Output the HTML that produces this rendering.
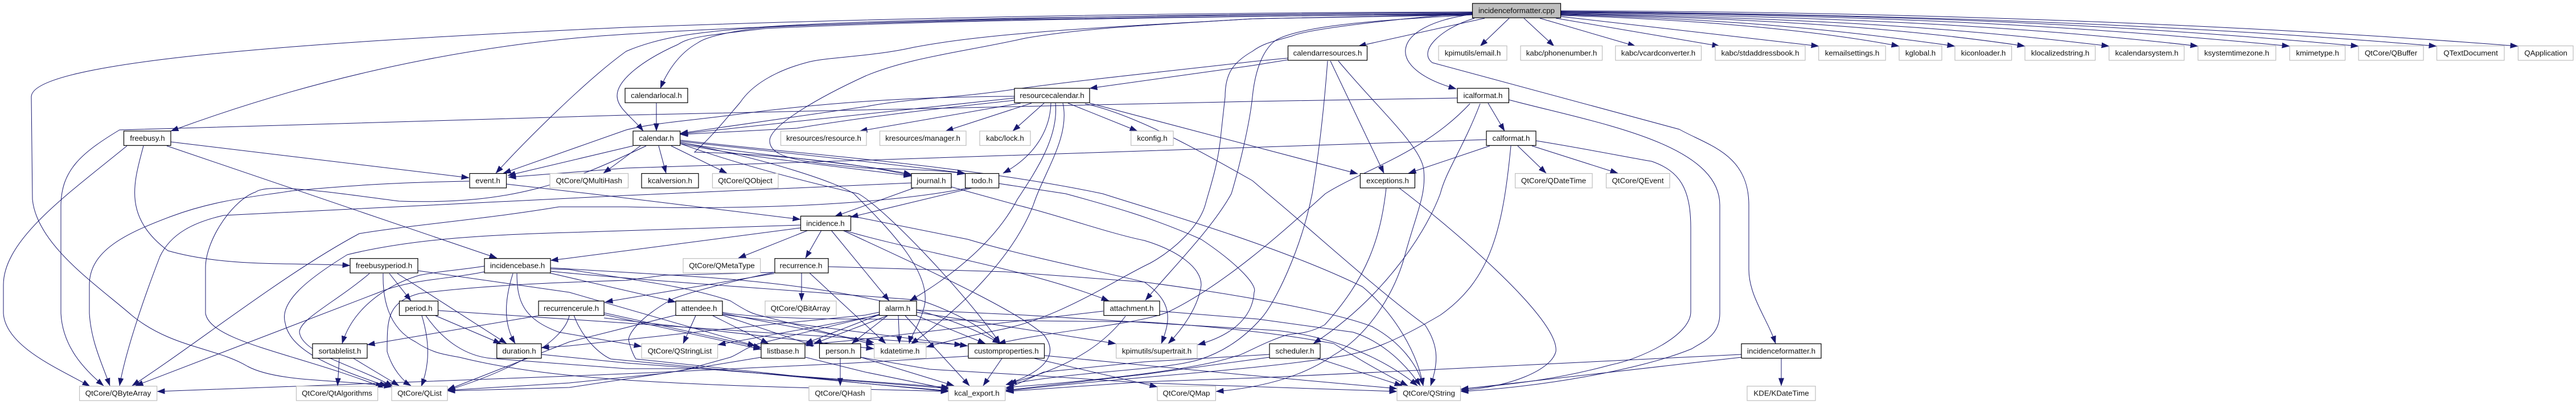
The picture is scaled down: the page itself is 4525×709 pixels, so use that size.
<!DOCTYPE html>
<html><head><meta charset="utf-8"><style>
html,body{margin:0;padding:0;background:#fff}
svg{display:block}
text{font:13.33px "Liberation Sans",Arial,sans-serif;text-anchor:middle;fill:#111}
.n{fill:#fff;stroke:#000;stroke-width:1.2}
.g{fill:#fff;stroke:#bfbfbf;stroke-width:1.2}
.e path{fill:none;stroke:#191970;stroke-width:1;marker-end:url(#a)}
</style></head><body>
<svg width="4525" height="709" viewBox="0 0 4525 709" xmlns="http://www.w3.org/2000/svg">
<defs><marker id="a" markerUnits="userSpaceOnUse" markerWidth="14" markerHeight="10" refX="13.5" refY="5" orient="auto"><path d="M0 0L14 5L0 10z" fill="#191970"/></marker></defs>
<g class="e">
<!-- root right -->
<path d="M2742 19C3300 20 3900 40 4423 81"/>
<path d="M2742 20C3300 25 3800 40 4280 81"/>
<path d="M2742 21C3300 25 3700 40 4143 81"/>
<path d="M2742 22C3300 26 3650 45 4022 81"/>
<path d="M2742 23C3200 28 3550 45 3861 81"/>
<path d="M2742 24C3200 32 3450 50 3705 81"/>
<path d="M2742 25C3100 32 3350 50 3557 81"/>
<path d="M2742 26C3050 33 3250 55 3434 81"/>
<path d="M2742 27C3000 35 3200 55 3336 81"/>
<path d="M2742 29L3195 81"/>
<path d="M2733 32L3021 81"/>
<path d="M2705 32L2873 81"/>
<path d="M2677 32L2730 81"/>
<path d="M2651 32L2600 81"/>
<path d="M2608 32L2386 81"/>
<path d="M2586 25C2440 45 2430 120 2558 156"/>
<path d="M2590 32C2530 50 2490 90 2516 110L2950 227C3000 255 3072 270 3072 360L3072 473C3072 520 3105 560 3119 603"/>
<!-- root left -->
<path d="M2586 21C2100 22 1600 30 1100 48C500 75 55 110 55 170L57 350C65 430 170 500 231 553C300 610 380 610 435 643C490 672 600 665 688 679"/>
<path d="M2586 22C2100 24 1500 35 1100 60C900 72 620 112 300 230"/>
<path d="M2586 23C2100 28 1600 30 1345 47C1250 55 1170 60 1100 90C1030 140 920 250 871 304"/>
<path d="M2586 24C2100 30 1650 35 1345 50C1240 62 1210 65 1191 78C1130 105 1084 140 1084 168C1084 190 1110 205 1130 230"/>
<path d="M2586 25C2000 30 1600 35 1345 48C1280 55 1240 65 1226 75C1190 95 1170 130 1160 155"/>
<path d="M2586 25L2200 33C2000 45 1750 55 1605 83C1530 100 1450 100 1416 110C1360 125 1320 150 1300 180C1270 215 1250 240 1220 267C1350 270 1500 285 1601 308"/>
<path d="M2586 26L2200 33C2000 45 1900 50 1801 67C1700 90 1600 100 1521 133C1440 170 1352 220 1352 247C1352 280 1420 285 1521 295C1600 297 1660 299 1695 305"/>
<path d="M2586 23C2480 30 2300 50 2270 63C2240 72 2220 75 2200 90C2165 110 2152 130 2152 170L2145 233C2140 290 2125 330 2117 360C2105 400 2060 440 2020 462C1960 490 1860 560 1750 580C1700 590 1660 600 1627 609"/>
<path d="M2586 26C2480 32 2400 38 2361 43C2300 50 2260 60 2242 70C2220 85 2205 120 2200 170C2195 220 2175 300 2163 340C2130 400 2060 470 2012 527"/>
<!-- calendarresources -->
<path d="M2262 102L2200 108C2100 120 1900 140 1780 157C1680 172 1600 172 1521 187L1195 234"/>
<path d="M2262 105L2200 115L1914 155"/>
<path d="M2337 107L2431 304"/>
<path d="M2332 107C2325 200 2315 280 2305 340C2285 440 2240 530 2217 557C2180 600 2140 620 2110 630C2050 650 1900 650 1767 675"/>
<path d="M2351 107C2420 190 2500 260 2501 300C2505 340 2490 370 2470 440C2450 520 2400 590 2343 623C2290 660 2220 680 2136 687"/>
<!-- icalformat -->
<path d="M2560 172L2200 178L1100 202C900 208 500 220 210 228C140 270 108 300 107 360L107 550C110 610 150 650 182 677"/>
<path d="M2614 181L2643 230"/>
<path d="M2582 182C2500 270 2390 300 2328 340C2250 410 2150 500 2053 547C2000 570 1850 580 1753 603"/>
<path d="M2600 182C2570 260 2540 300 2530 340C2500 420 2420 530 2307 603"/>
<path d="M2650 175C2800 215 3021 250 3021 360L3021 550C3021 590 2990 600 2972 612C2880 650 2700 680 2566 687"/>
<!-- calformat -->
<path d="M2611 245L1100 295L893 311"/>
<path d="M2617 256L2474 304"/>
<path d="M2666 256L2716 304"/>
<path d="M2691 256L2842 304"/>
<path d="M2698 247C2780 260 2880 280 2901 283C2950 300 2970 330 2970 400L2970 547C2970 590 2880 630 2831 640C2720 670 2640 675 2566 683"/>
<path d="M2654 256C2640 400 2620 490 2530 553C2450 600 2400 620 2343 627C2200 650 2000 660 1767 686"/>
<!-- exceptions -->
<path d="M2435 330C2425 420 2400 490 2327 570C2300 585 2280 585 2263 587C2220 600 2180 625 2170 625C2100 650 1900 670 1767 680"/>
<path d="M2458 330C2550 400 2740 560 2733 617C2725 650 2650 680 2566 685"/>
<!-- resourcecalendar -->
<path d="M1782 169C1600 170 1450 180 1300 200C1230 210 1150 215 1100 228L884 304"/>
<path d="M1782 172C1650 185 1520 200 1400 213L1195 235"/>
<path d="M1782 176C1650 190 1520 205 1400 225L1195 236"/>
<path d="M1793 181L1510 230"/>
<path d="M1812 181L1661 230"/>
<path d="M1834 181L1779 230"/>
<path d="M1876 181L1998 230"/>
<path d="M1846 181C1845 220 1825 270 1762 304"/>
<path d="M1854 181C1860 240 1820 300 1787 350C1750 420 1680 480 1598 528"/>
<path d="M1867 181C1880 240 1835 300 1815 360C1780 450 1690 540 1600 604"/>
<path d="M1914 181L2385 305"/>
<path d="M1906 182C1990 200 2100 260 2200 317L2227 340C2300 400 2420 510 2503 570C2530 610 2525 640 2513 677"/>
<!-- calendar -->
<path d="M1153 181L1153 230"/>
<path d="M1135 256C1000 320 900 360 701 353C600 340 470 320 449 337C410 350 361 420 361 470L361 550C370 600 520 620 673 680"/>
<path d="M1112 256L892 308"/>
<path d="M1125 256L1060 304"/>
<path d="M1157 256L1170 304"/>
<path d="M1179 256L1277 304"/>
<path d="M1195 248C1300 260 1500 280 1695 304"/>
<path d="M1195 250C1300 270 1500 285 1601 306"/>
<path d="M1195 252C1300 275 1500 295 1601 309"/>
<path d="M1195 246C1400 270 1700 290 1937 340C2030 370 2243 430 2393 503C2450 550 2490 620 2500 677"/>
<path d="M1195 250C1350 280 1470 320 1500 340C1560 400 1640 480 1623 540C1615 570 1600 590 1597 603"/>
<path d="M1195 252C1300 290 1420 320 1508 340C1560 370 1700 520 1757 603"/>
<!-- event -->
<path d="M889 323L1037 340L1406 385"/>
<path d="M824 318C700 320 620 325 512 335C450 345 380 350 300 380C220 410 157 440 157 500L157 550C160 600 180 640 193 677"/>
<!-- journal/todo -->
<path d="M1601 321L1100 343L757 360L393 378C340 390 300 410 281 450C250 530 220 620 210 677"/>
<path d="M1605 330L1466 380"/>
<path d="M1671 328L1787 360C1850 375 1950 410 2010 422C2070 440 2110 470 2110 500C2105 540 2075 580 2052 603"/>
<path d="M1700 330C1600 350 1400 370 1100 363L982 363C850 385 720 395 631 410C500 480 350 600 232 677"/>
<path d="M1707 330L1494 381"/>
<path d="M1754 322L1872 340C1945 360 2020 380 2110 420C2170 460 2210 500 2203 513C2200 560 2160 590 2104 605"/>
<!-- incidence -->
<path d="M1406 395L1000 408C850 412 720 420 610 447C540 490 490 530 501 567C510 620 600 650 680 678"/>
<path d="M1406 400L1000 453L967 457"/>
<path d="M1420 404L1297 453"/>
<path d="M1443 404L1415 453"/>
<path d="M1460 404L1562 528"/>
<path d="M1482 404C1600 440 1800 470 1948 528"/>
<path d="M1490 378L1700 420C1800 450 1950 480 2010 495C2060 530 2057 560 2040 603"/>
<path d="M1480 404C1600 460 1780 540 1833 587C1860 620 1840 650 1767 675"/>
<!-- freebusy -->
<path d="M300 249L824 312"/>
<path d="M252 256C235 320 215 380 295 440C400 470 520 460 615 466"/>
<path d="M293 256L873 453"/>
<path d="M223 256C120 340 6 420 6 500L6 550C10 610 110 650 158 678"/>
<!-- freebusyperiod -->
<path d="M649 480C590 530 526 560 526 583C530 620 620 640 690 678"/>
<path d="M684 480L722 528"/>
<path d="M698 480L890 603"/>
<path d="M673 480C672 520 680 575 730 600C760 620 780 622 807 627C900 650 1000 660 1100 667C1300 680 1500 682 1666 687"/>
<path d="M734 475L1000 513L1327 607"/>
<!-- incidencebase -->
<path d="M851 467C800 475 770 476 737 483C680 500 620 540 601 603"/>
<path d="M851 477C790 490 720 490 666 513L238 677"/>
<path d="M901 480C885 530 885 570 905 603"/>
<path d="M908 480C908 530 920 560 982 583L1127 608"/>
<path d="M967 472L1000 473C1100 490 1200 500 1283 528C1310 545 1320 550 1333 553L1535 605"/>
<path d="M967 470L1183 483C1300 490 1600 510 1757 603"/>
<path d="M965 479L1187 530"/>
<path d="M967 476C1100 490 1400 510 1617 527C1670 545 1720 570 1757 603"/>
<!-- period -->
<path d="M741 554C755 600 755 640 740 678"/>
<path d="M765 554L880 603"/>
<path d="M770 545L1100 567L1333 583L1690 605"/>
<path d="M748 554C780 600 820 625 863 629L1100 647L1233 647L1667 682"/>
<!-- recurrencerule -->
<path d="M946 554L645 605"/>
<path d="M1000 554C990 600 900 650 786 685"/>
<path d="M1008 553C1025 600 1060 625 1073 630L1520 673L1667 687"/>
<path d="M1061 549L1337 610"/>
<path d="M1061 552L1337 613"/>
<path d="M1061 558L1535 612"/>
<!-- recurrence -->
<path d="M1360 480L1063 530"/>
<path d="M1360 478C1300 490 1200 515 1177 527C1120 560 1100 590 1105 600C1110 620 1117 630 1117 630L1520 673L1667 686"/>
<path d="M1361 478L1167 483L1100 492C1000 495 850 500 737 515C680 530 680 560 680 617C690 650 710 670 722 677"/>
<path d="M1408 479L1408 528"/>
<path d="M1422 479L1556 603"/>
<path d="M1455 468L1767 477L2010 495C2200 520 2350 550 2410 573C2460 600 2490 640 2500 677"/>
<!-- attendee -->
<path d="M1222 554L1200 603"/>
<path d="M1252 554L1350 603"/>
<path d="M1269 553L1430 607"/>
<path d="M1269 550L1535 601"/>
<path d="M1269 552L1700 607"/>
<path d="M1269 548C1300 555 1400 560 1520 560L2010 565C2200 577 2300 595 2343 603C2370 620 2420 650 2473 677"/>
<path d="M1187 553L1000 600L786 684"/>
<!-- alarm -->
<path d="M1590 554L1703 677"/>
<path d="M1578 554L1580 603"/>
<path d="M1559 554L1496 603"/>
<path d="M1559 554L1430 603"/>
<path d="M1545 552L1414 603"/>
<path d="M1545 553L1261 605"/>
<path d="M1544 548L1520 553L1267 578L1000 607L951 610"/>
<path d="M1544 552L1333 603C1310 610 1300 620 1283 627L1200 650L1000 680L786 686"/>
<path d="M1610 554L1731 603"/>
<path d="M1610 548L1960 603"/>
<path d="M1610 544L1800 553L2010 566L2243 580C2330 590 2420 620 2490 677"/>
<!-- attachment -->
<path d="M1938 546L1500 597L1414 605"/>
<path d="M1977 555C1950 590 1900 640 1772 673"/>
<path d="M2037 546L2210 560L2377 583C2430 600 2470 640 2495 677"/>
<!-- scheduler, customproperties etc -->
<path d="M2230 622L2010 635L1833 653L1767 683"/>
<path d="M2230 627L2010 657L1767 685"/>
<path d="M2312 628L2463 677"/>
<path d="M1701 625L1500 637L1167 653L1000 660L276 687"/>
<path d="M1760 629L1727 677"/>
<path d="M1817 629L2033 679"/>
<path d="M1835 624L2020 642L2177 657L2454 682"/>
<!-- incidenceformatter.h -->
<path d="M3059 622L2530 648L2210 663L2010 670L1767 687"/>
<path d="M3059 627L2566 683"/>
<path d="M3129 629L3129 677"/>
<!-- person, listbase, duration -->
<path d="M1476 629L1476 677"/>
<path d="M1512 627L1676 677"/>
<path d="M1512 627L1633 648L1833 660L2010 672L2454 687"/>
<path d="M1415 627L1520 653L1667 683"/>
<path d="M1337 627L1167 655L1000 672L786 685"/>
<path d="M951 622L1100 637L1400 660L1667 680"/>
<!-- sortablelist -->
<path d="M596 629L593 677"/>
<path d="M621 629L701 677"/>
</g>
<g>
<rect x="2586.5" y="6" width="155" height="25.3" fill="#bfbfbf" stroke="#000" stroke-width="1.2"/><text x="2664" y="23">incidenceformatter.cpp</text>
<rect class="n" x="2262.5" y="80.5" width="139" height="25.3"/><text x="2332" y="97.5">calendarresources.h</text>
<rect class="g" x="2527" y="80.5" width="120" height="25.3"/><text x="2587" y="97.5">kpimutils/email.h</text>
<rect class="g" x="2671" y="80.5" width="143.500" height="25.3"/><text x="2743" y="97.5">kabc/phonenumber.h</text>
<rect class="g" x="2837.700" y="80.5" width="150.800" height="25.3"/><text x="2913" y="97.5">kabc/vcardconverter.h</text>
<rect class="g" x="3013" y="80.5" width="158" height="25.3"/><text x="3092" y="97.5">kabc/stdaddressbook.h</text>
<rect class="g" x="3194.700" y="80.5" width="117.500" height="25.3"/><text x="3253.500" y="97.5">kemailsettings.h</text>
<rect class="g" x="3336" y="80.5" width="75" height="25.3"/><text x="3373.500" y="97.5">kglobal.h</text>
<rect class="g" x="3434" y="80.5" width="99.600" height="25.3"/><text x="3484" y="97.5">kiconloader.h</text>
<rect class="g" x="3557" y="80.5" width="123.500" height="25.3"/><text x="3619" y="97.5">klocalizedstring.h</text>
<rect class="g" x="3704.700" y="80.5" width="132" height="25.3"/><text x="3771" y="97.5">kcalendarsystem.h</text>
<rect class="g" x="3861" y="80.5" width="136.700" height="25.3"/><text x="3929" y="97.5">ksystemtimezone.h</text>
<rect class="g" x="4022" y="80.5" width="97.500" height="25.3"/><text x="4071" y="97.5">kmimetype.h</text>
<rect class="g" x="4143" y="80.5" width="114" height="25.3"/><text x="4200" y="97.5">QtCore/QBuffer</text>
<rect class="g" x="4280.500" y="80.5" width="118.500" height="25.3"/><text x="4340" y="97.5">QTextDocument</text>
<rect class="g" x="4423.400" y="80.5" width="96.600" height="25.3"/><text x="4472" y="97.5">QApplication</text>

<rect class="n" x="1098" y="155" width="110" height="25.3"/><text x="1153" y="172">calendarlocal.h</text>
<rect class="n" x="1782" y="155" width="132" height="25.3"/><text x="1848" y="172">resourcecalendar.h</text>
<rect class="n" x="2560" y="155" width="90.400" height="25.3"/><text x="2605" y="172">icalformat.h</text>

<rect class="n" x="217.500" y="230" width="82.500" height="25.3"/><text x="259" y="247">freebusy.h</text>
<rect class="n" x="1112" y="230" width="82.700" height="25.3"/><text x="1153" y="247">calendar.h</text>
<rect class="g" x="1371.500" y="230" width="150.500" height="25.3"/><text x="1447" y="247">kresources/resource.h</text>
<rect class="g" x="1545.500" y="230" width="151.500" height="25.3"/><text x="1621" y="247">kresources/manager.h</text>
<rect class="g" x="1721" y="230" width="89" height="25.3"/><text x="1765.500" y="247">kabc/lock.h</text>
<rect class="g" x="1986.700" y="230" width="74.300" height="25.3"/><text x="2024" y="247">kconfig.h</text>
<rect class="n" x="2611" y="230" width="87" height="25.3"/><text x="2654.500" y="247">calformat.h</text>

<rect class="n" x="825" y="304.500" width="64.500" height="25.3"/><text x="857" y="321.500">event.h</text>
<rect class="g" x="966" y="304.500" width="137.500" height="25.3"/><text x="1034.700" y="321.500">QtCore/QMultiHash</text>
<rect class="n" x="1127" y="304.500" width="100" height="25.3"/><text x="1177" y="321.500">kcalversion.h</text>
<rect class="g" x="1251.500" y="304.500" width="115.500" height="25.3"/><text x="1309" y="321.500">QtCore/QObject</text>
<rect class="n" x="1601" y="304.500" width="70" height="25.3"/><text x="1636" y="321.500">journal.h</text>
<rect class="n" x="1695.600" y="304.500" width="59" height="25.3"/><text x="1725" y="321.500">todo.h</text>
<rect class="n" x="2389.400" y="304.500" width="96" height="25.3"/><text x="2437.500" y="321.500">exceptions.h</text>
<rect class="g" x="2661.600" y="304.500" width="135.400" height="25.3"/><text x="2729" y="321.500">QtCore/QDateTime</text>
<rect class="g" x="2821.500" y="304.500" width="111.500" height="25.3"/><text x="2877" y="321.500">QtCore/QEvent</text>

<rect class="n" x="1406.500" y="379.300" width="88" height="25.3"/><text x="1450" y="396.300">incidence.h</text>

<rect class="n" x="615" y="453.700" width="119" height="25.3"/><text x="674.500" y="470.700">freebusyperiod.h</text>
<rect class="n" x="851" y="453.700" width="116" height="25.3"/><text x="909" y="470.700">incidencebase.h</text>
<rect class="g" x="1200" y="453.700" width="135.700" height="25.3"/><text x="1268" y="470.700">QtCore/QMetaType</text>
<rect class="n" x="1361" y="453.700" width="94" height="25.3"/><text x="1407" y="470.700">recurrence.h</text>

<rect class="n" x="701.500" y="528.300" width="68" height="25.3"/><text x="735.500" y="545.300">period.h</text>
<rect class="n" x="946" y="528.300" width="115" height="25.3"/><text x="1003.500" y="545.300">recurrencerule.h</text>
<rect class="n" x="1187" y="528.300" width="82" height="25.3"/><text x="1228" y="545.300">attendee.h</text>
<rect class="g" x="1344" y="528.300" width="125" height="25.3"/><text x="1406" y="545.300">QtCore/QBitArray</text>
<rect class="n" x="1544.700" y="528.300" width="65.300" height="25.3"/><text x="1577" y="545.300">alarm.h</text>
<rect class="n" x="1939" y="528.300" width="98" height="25.3"/><text x="1988" y="545.300">attachment.h</text>

<rect class="n" x="549" y="603.300" width="96" height="25.3"/><text x="597" y="620.300">sortablelist.h</text>
<rect class="n" x="872.700" y="603.300" width="78.300" height="25.3"/><text x="912" y="620.300">duration.h</text>
<rect class="g" x="1127" y="603.300" width="133.600" height="25.3"/><text x="1194" y="620.300">QtCore/QStringList</text>
<rect class="n" x="1337" y="603.300" width="77" height="25.3"/><text x="1375.500" y="620.300">listbase.h</text>
<rect class="n" x="1439.500" y="603.300" width="72.300" height="25.3"/><text x="1476" y="620.300">person.h</text>
<rect class="g" x="1535.600" y="603.300" width="91.200" height="25.3"/><text x="1581" y="620.300">kdatetime.h</text>
<rect class="n" x="1701" y="603.300" width="133.500" height="25.3"/><text x="1768" y="620.300">customproperties.h</text>
<rect class="g" x="1960.700" y="603.300" width="142.300" height="25.3"/><text x="2032" y="620.300">kpimutils/supertrait.h</text>
<rect class="n" x="2230" y="603.300" width="89" height="25.3"/><text x="2274.500" y="620.300">scheduler.h</text>
<rect class="n" x="3059" y="603.300" width="140" height="25.3"/><text x="3129" y="620.300">incidenceformatter.h</text>

<rect class="g" x="139.600" y="677.700" width="136.100" height="25.3"/><text x="207.500" y="694.700">QtCore/QByteArray</text>
<rect class="g" x="520.500" y="677.700" width="143.100" height="25.3"/><text x="592" y="694.700">QtCore/QtAlgorithms</text>
<rect class="g" x="688" y="677.700" width="98" height="25.3"/><text x="737" y="694.700">QtCore/QList</text>
<rect class="g" x="1421" y="677.700" width="109" height="25.3"/><text x="1475.500" y="694.700">QtCore/QHash</text>
<rect class="g" x="1666" y="677.700" width="99.700" height="25.3"/><text x="1716" y="694.700">kcal_export.h</text>
<rect class="g" x="2033" y="677.700" width="102.400" height="25.3"/><text x="2084" y="694.700">QtCore/QMap</text>
<rect class="g" x="2454" y="677.700" width="111.500" height="25.3"/><text x="2510" y="694.700">QtCore/QString</text>
<rect class="g" x="3069" y="677.700" width="120" height="25.3"/><text x="3129" y="694.700">KDE/KDateTime</text>
</g>
</svg>
</body></html>
